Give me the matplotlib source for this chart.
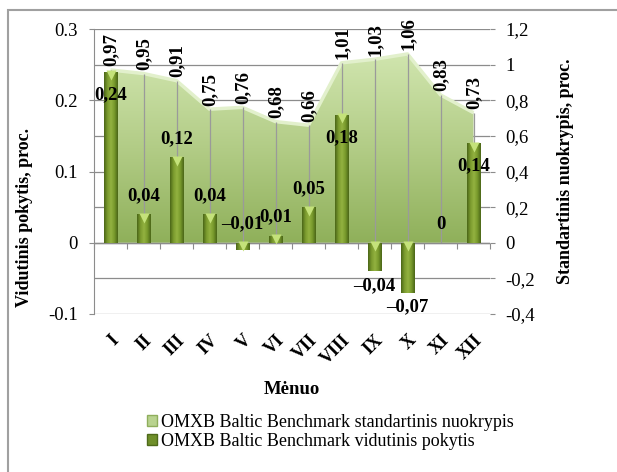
import numpy as np
import matplotlib
matplotlib.use("Agg")
import matplotlib.pyplot as plt
import matplotlib.transforms as mtransforms
from matplotlib.colors import LinearSegmentedColormap
from matplotlib.patches import Rectangle, Patch
from matplotlib.ticker import FixedLocator, FuncFormatter

plt.rcParams['font.family'] = ['Liberation Serif', 'DejaVu Serif']

# data
months = ['I', 'II', 'III', 'IV', 'V', 'VI', 'VII', 'VIII', 'IX', 'X', 'XI', 'XII']
std_dev = [0.97, 0.95, 0.91, 0.75, 0.76, 0.68, 0.66, 1.01, 1.03, 1.06, 0.83, 0.73]
avg_change = [0.24, 0.04, 0.12, 0.04, -0.01, 0.01, 0.05, 0.18, -0.04, -0.07, 0, 0.14]
left_ticks = [-0.1, 0, 0.1, 0.2, 0.3]
right_ticks = [-0.4, -0.2, 0, 0.2, 0.4, 0.6, 0.8, 1.0, 1.2]
std_name = 'OMXB Baltic Benchmark standartinis nuokrypis'
avg_name = 'OMXB Baltic Benchmark vidutinis pokytis'

x = np.arange(len(months))
grid_c = '#8c8c8c'

fig = plt.figure(figsize=(6.17, 4.72), dpi=100)
W, H = 617, 472
ax = fig.add_axes([94 / W, 1 - 314 / H, 396 / W, 285 / H])
ax2 = ax.twinx()
ax.set_zorder(ax2.get_zorder() + 1)
ax.patch.set_visible(False)

xlim = (-0.5, len(months) - 0.5)
for a in (ax, ax2):
    a.set_xlim(*xlim)
    for s in a.spines.values():
        s.set_visible(False)
ax.set_ylim(-0.1, 0.3)
ax2.set_ylim(-0.4, 1.2)

# right axis gridlines
for t in right_ticks:
    ax2.axhline(t, color=grid_c, lw=0.9, zorder=0)

# std dev area with vertical gradient
poly = ax2.fill_between(x, std_dev, 0, facecolor='none', edgecolor='none', zorder=1)
area_cmap = LinearSegmentedColormap.from_list('area', ['#8fb05a', '#b2cc86', '#d0e5ae'])
grad = np.linspace(0, 1, 256).reshape(-1, 1)
im = ax2.imshow(grad, extent=[x[0], x[-1], 0, max(std_dev)], origin='lower',
                aspect='auto', cmap=area_cmap, zorder=1.5)
im.set_clip_path(poly.get_paths()[0], transform=ax2.transData)
ax2.plot(x, std_dev, color='#e2f0cc', lw=2.5, zorder=2, solid_capstyle='butt')
ax2.vlines(x, 0, std_dev, color='#9a9a9a', lw=0.9, zorder=2.5)
ax2.set_xlim(*xlim)
ax2.set_ylim(-0.4, 1.2)

for xi, v in zip(x, std_dev):
    ax2.annotate(f'{v:g}'.replace('.', ','), (xi, v), xytext=(0.5, 2.5),
                 textcoords='offset points', rotation=90, ha='center', va='bottom',
                 fontsize=13.5, fontweight='bold', zorder=5)

# bars with horizontal gradient
bw = 0.42
bar_cmap = LinearSegmentedColormap.from_list('bar', ['#4b6618', '#7b9b2e', '#93b241', '#789a2c', '#4b6618'])
hgrad = np.linspace(0, 1, 64).reshape(1, -1)
bars = ax.bar(x, avg_change, width=bw, color='none', edgecolor='none', zorder=3)
for b in bars:
    y0, y1 = sorted([b.get_y(), b.get_y() + b.get_height()])
    if y1 - y0 <= 0:
        continue
    bi = ax.imshow(hgrad, extent=[b.get_x(), b.get_x() + b.get_width(), y0, y1],
                   aspect='auto', cmap=bar_cmap, zorder=3)
    bi.set_clip_path(b)

# light caps on the bar tops
cap_x = [xi for xi, v in zip(x, avg_change) if v != 0]
cap_y = [max(v, 0) for v in avg_change if v != 0]
cap_off = mtransforms.offset_copy(ax.transData, fig=fig, x=0, y=-2.6, units='points')
ax.plot(cap_x, cap_y, linestyle='none', marker='v', ms=7, color='#c4e27a', mec='none',
        transform=cap_off, zorder=4)
ax.set_xlim(*xlim)
ax.set_ylim(-0.1, 0.3)

for xi, v in zip(x, avg_change):
    if v >= 0.14:
        ly = v - 0.032
    elif v > -0.02:
        ly = max(v, 0) + 0.026
    else:
        ly = v - 0.02
    txt = f'{v:g}'.replace('.', ',')
    if v < 0:
        txt = txt.replace('-', '\u2013')
    ax.text(xi, ly, txt, ha='center', va='center', fontsize=13.5, fontweight='bold', zorder=6)

# zero category axis with boundary ticks
ax.axhline(0, color=grid_c, lw=1.0, zorder=2.8)
zero_ax = ax.secondary_xaxis(0.25)
zero_ax.set_xticks(np.arange(len(months) + 1) - 0.5)
zero_ax.tick_params(length=4, color=grid_c, labelbottom=False, labeltop=False, direction='out')
zero_ax.spines['bottom'].set_visible(False)
zero_ax.spines['top'].set_visible(False)

# left axis
ax.spines['left'].set_visible(True)
ax.spines['left'].set_color(grid_c)
ax.yaxis.set_major_locator(FixedLocator(left_ticks))
ax.yaxis.set_major_formatter(FuncFormatter(lambda v, p: f'{v:g}'))
ax.tick_params(axis='y', length=3.6, color=grid_c, labelsize=13.5, pad=8)
ax.set_ylabel('Vidutinis pokytis, proc.', fontsize=13, fontweight='bold')
ax.yaxis.set_label_coords(-0.153, 0.34)

# right axis
ax2.yaxis.set_major_locator(FixedLocator(right_ticks))
ax2.yaxis.set_major_formatter(FuncFormatter(lambda v, p: f'{v:g}'.replace('.', ',')))
ax2.tick_params(axis='y', length=3.6, color=grid_c, labelsize=13.5, pad=7.5)
ax2.set_ylabel('Standartinis nuokrypis, proc.', fontsize=13, fontweight='bold', rotation=90)
ax2.yaxis.set_label_coords(1.17, 0.5)

# category labels
ax.set_xticks(x)
ax.set_xticklabels(months, rotation=45, ha='right', va='top', rotation_mode='anchor',
                   fontsize=13, fontweight='bold')
ax.tick_params(axis='x', length=0, pad=13)
ax.set_xlabel('Mėnuo', fontsize=13.5, fontweight='bold')
ax.xaxis.set_label_coords(0.5, -(381 - 314) / 285)

# legend
handles = [Patch(facecolor='#b9d38f', edgecolor='#8fae5c'),
           Patch(facecolor='#6f8f2a', edgecolor='#4e6a1a')]
fig.legend(handles, [std_name, avg_name], loc='upper left',
           bbox_to_anchor=(138 / W, 1 - 405 / H), frameon=False, fontsize=13,
           handlelength=0.55, handleheight=0.6, handletextpad=0.2, labelspacing=0.1,
           borderpad=0)

# outer frame
fig.add_artist(Rectangle((8 / W, -0.02), 1.02, 1 - 10 / H + 0.02, transform=fig.transFigure,
                         fill=False, edgecolor='#a0a0a0', lw=1.5, clip_on=False))

fig.savefig('out.png', dpi=100)
